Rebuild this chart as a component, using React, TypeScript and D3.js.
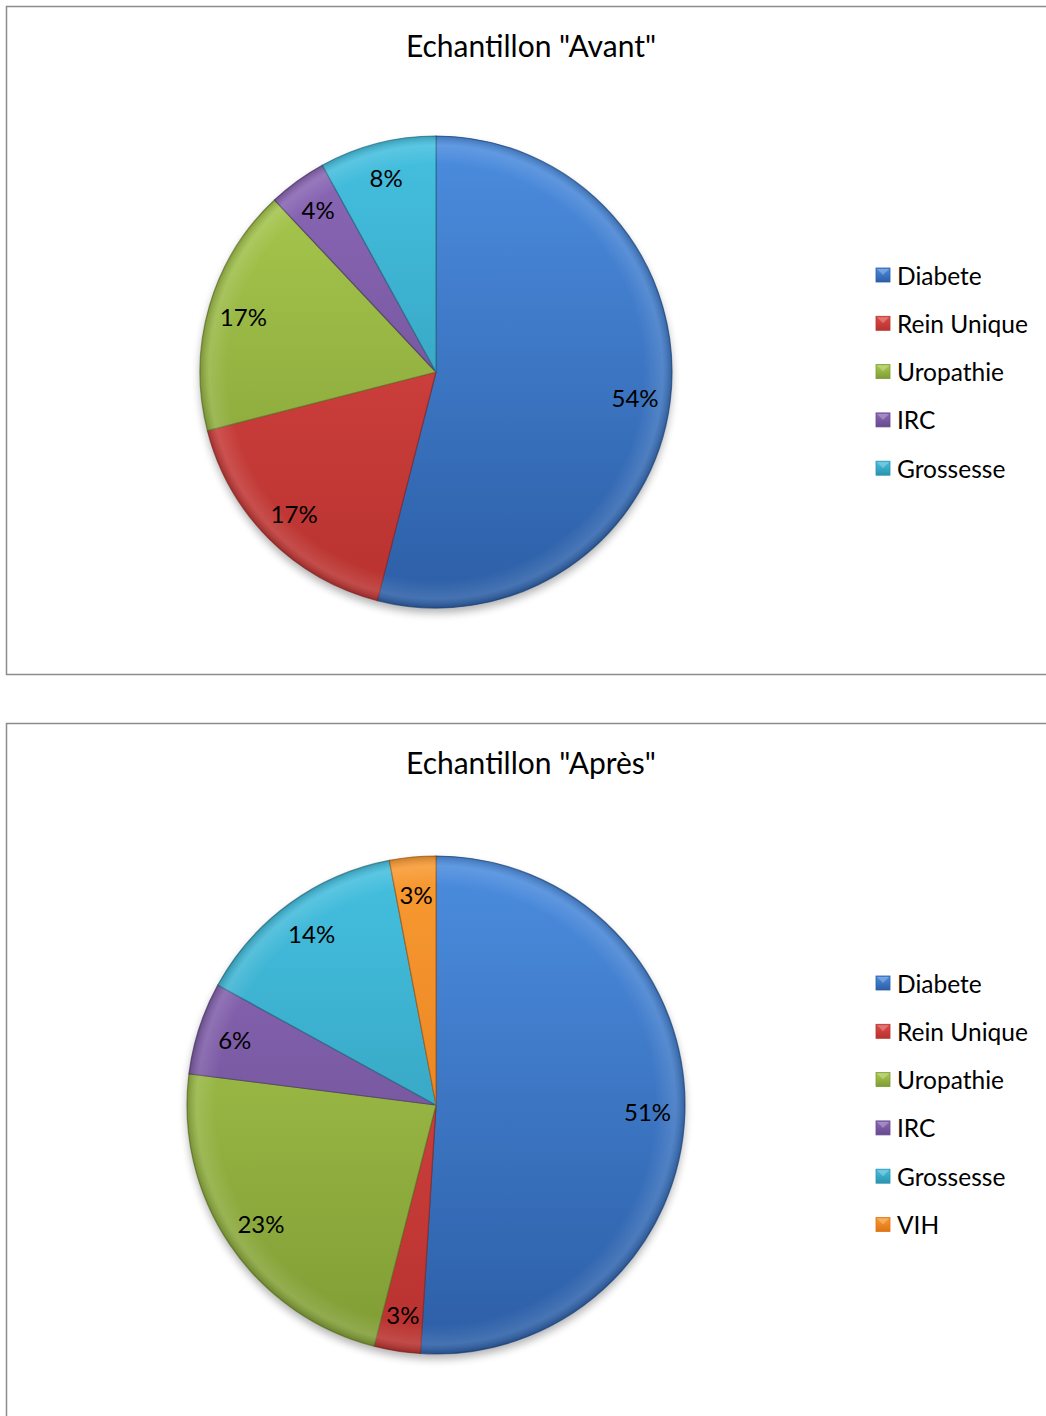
import * as d3 from 'd3';

// Data
const categoriesAvant = ['Diabete', 'Rein Unique', 'Uropathie', 'IRC', 'Grossesse'];
const valuesAvant = [54, 17, 17, 4, 8];

const categoriesApres = ['Diabete', 'Rein Unique', 'Uropathie', 'IRC', 'Grossesse', 'VIH'];
const valuesApres = [51, 3, 23, 6, 14, 3];

// Excel 2007 palette, light top / dark bottom
const palette: Record<string, [string, string]> = {
    'Diabete': ['#4c8ddf', '#2c5ea6'],
    'Rein Unique': ['#dc4a48', '#b8322f'],
    'Uropathie': ['#aacb50', '#7f9c34'],
    'IRC': ['#8c68b8', '#674a8c'],
    'Grossesse': ['#45c0e0', '#2c93ae'],
    'VIH': ['#f89a32', '#df7414'],
};

const FONT = 'Lato, "Open Sans", sans-serif';
const W = 1046;
const H = 1416;

type Slice = { name: string; value: number };

interface PieChartProps {
    id: string;
    title: string;
    categories: string[];
    values: number[];
    boxTop: number;
    boxHeight: number;
    titleY: number;
    cx: number;
    cy: number;
    r: number;
    legendY: number;
}

function PieChart({ id, title, categories, values, boxTop, boxHeight, titleY, cx, cy, r, legendY }: PieChartProps) {
    const data: Slice[] = categories.map((c, i) => ({ name: c, value: values[i] }));
    const pie = d3.pie<Slice>()
        .sort(null)
        .value(d => d.value);
    const arcs = pie(data);
    const arc = d3.arc<d3.PieArcDatum<Slice>>()
        .innerRadius(0)
        .outerRadius(r);
    const labelArc = d3.arc<d3.PieArcDatum<Slice>>()
        .innerRadius(r * 0.85)
        .outerRadius(r * 0.85);

    const legendStep = 48.3;

    return (
        <g>
            <defs>
                {categories.map((c, i) => (
                    <linearGradient key={c} id={`${id}-g${i}`} gradientUnits="userSpaceOnUse"
                        x1={0} y1={-r} x2={0} y2={r}>
                        <stop offset="0%" stopColor={palette[c][0]} />
                        <stop offset="100%" stopColor={palette[c][1]} />
                    </linearGradient>
                ))}
                {categories.map((c, i) => (
                    <linearGradient key={c} id={`${id}-s${i}`} x1="0" y1="0" x2="0" y2="1">
                        <stop offset="0%" stopColor={palette[c][0]} />
                        <stop offset="100%" stopColor={palette[c][1]} />
                    </linearGradient>
                ))}
                <radialGradient id={`${id}-rim`} cx="50%" cy="50%" r="50%">
                    <stop offset="88%" stopColor="#fff" stopOpacity={0} />
                    <stop offset="96%" stopColor="#fff" stopOpacity={0.12} />
                    <stop offset="100%" stopColor="#000" stopOpacity={0.18} />
                </radialGradient>
                <filter id={`${id}-shadow`} x="-20%" y="-20%" width="140%" height="140%">
                    <feGaussianBlur stdDeviation="4" />
                </filter>
            </defs>

            {/* chart area border (right side runs off the page) */}
            <rect x={6.5} y={boxTop} width={W + 20} height={boxHeight}
                fill="#fff" stroke="#8c8c8c" strokeWidth={1.5} />

            <text x={531} y={titleY} textAnchor="middle" fontFamily={FONT}
                fontSize={30} fill="#000">{title}</text>

            {/* drop shadow */}
            <circle cx={cx} cy={cy + 5} r={r} fill="#000" opacity={0.3}
                filter={`url(#${id}-shadow)`} />

            <g transform={`translate(${cx},${cy})`}>
                {arcs.map((a, i) => (
                    <path key={a.data.name} d={arc(a) ?? ''}
                        fill={`url(#${id}-g${i})`}
                        stroke={d3.color(palette[a.data.name][1])?.darker(0.8).formatHex()}
                        strokeOpacity={0.7}
                        strokeWidth={1.2} />
                ))}
            </g>
            <circle cx={cx} cy={cy} r={r} fill={`url(#${id}-rim)`} />

            {arcs.map(a => {
                const [lx, ly] = labelArc.centroid(a);
                return (
                    <text key={`lbl-${a.data.name}`} x={cx + lx} y={cy + ly}
                        textAnchor="middle" dominantBaseline="central"
                        fontFamily={FONT} fontSize={24} fill="#000">
                        {`${a.data.value}%`}
                    </text>
                );
            })}

            {categories.map((c, i) => {
                const y = legendY + i * legendStep;
                return (
                    <g key={`leg-${c}`}>
                        <rect x={876} y={y - 7} width={14} height={14}
                            fill={`url(#${id}-s${i})`}
                            stroke={palette[c][1]} strokeWidth={0.8} />
                        <path d={`M${877},${y - 6} L${889},${y - 6} L${883},${y}Z`}
                            fill="#fff" opacity={0.25} />
                        <text x={897} y={y} dominantBaseline="central"
                            fontFamily={FONT} fontSize={24.5} fill="#000">{c}</text>
                    </g>
                );
            })}
        </g>
    );
}

export default function App() {
    return (
        <svg width={W} height={H} viewBox={`0 0 ${W} ${H}`}
            style={{ position: 'absolute', left: 0, top: 0, background: '#fff' }}>
            <PieChart id="avant" title={'Echantillon "Avant"'}
                categories={categoriesAvant} values={valuesAvant}
                boxTop={6.5} boxHeight={668} titleY={57}
                cx={436} cy={372} r={236} legendY={275} />
            <PieChart id="apres" title={'Echantillon "Après"'}
                categories={categoriesApres} values={valuesApres}
                boxTop={723.5} boxHeight={720} titleY={774}
                cx={436} cy={1105} r={249} legendY={983} />
        </svg>
    );
}
